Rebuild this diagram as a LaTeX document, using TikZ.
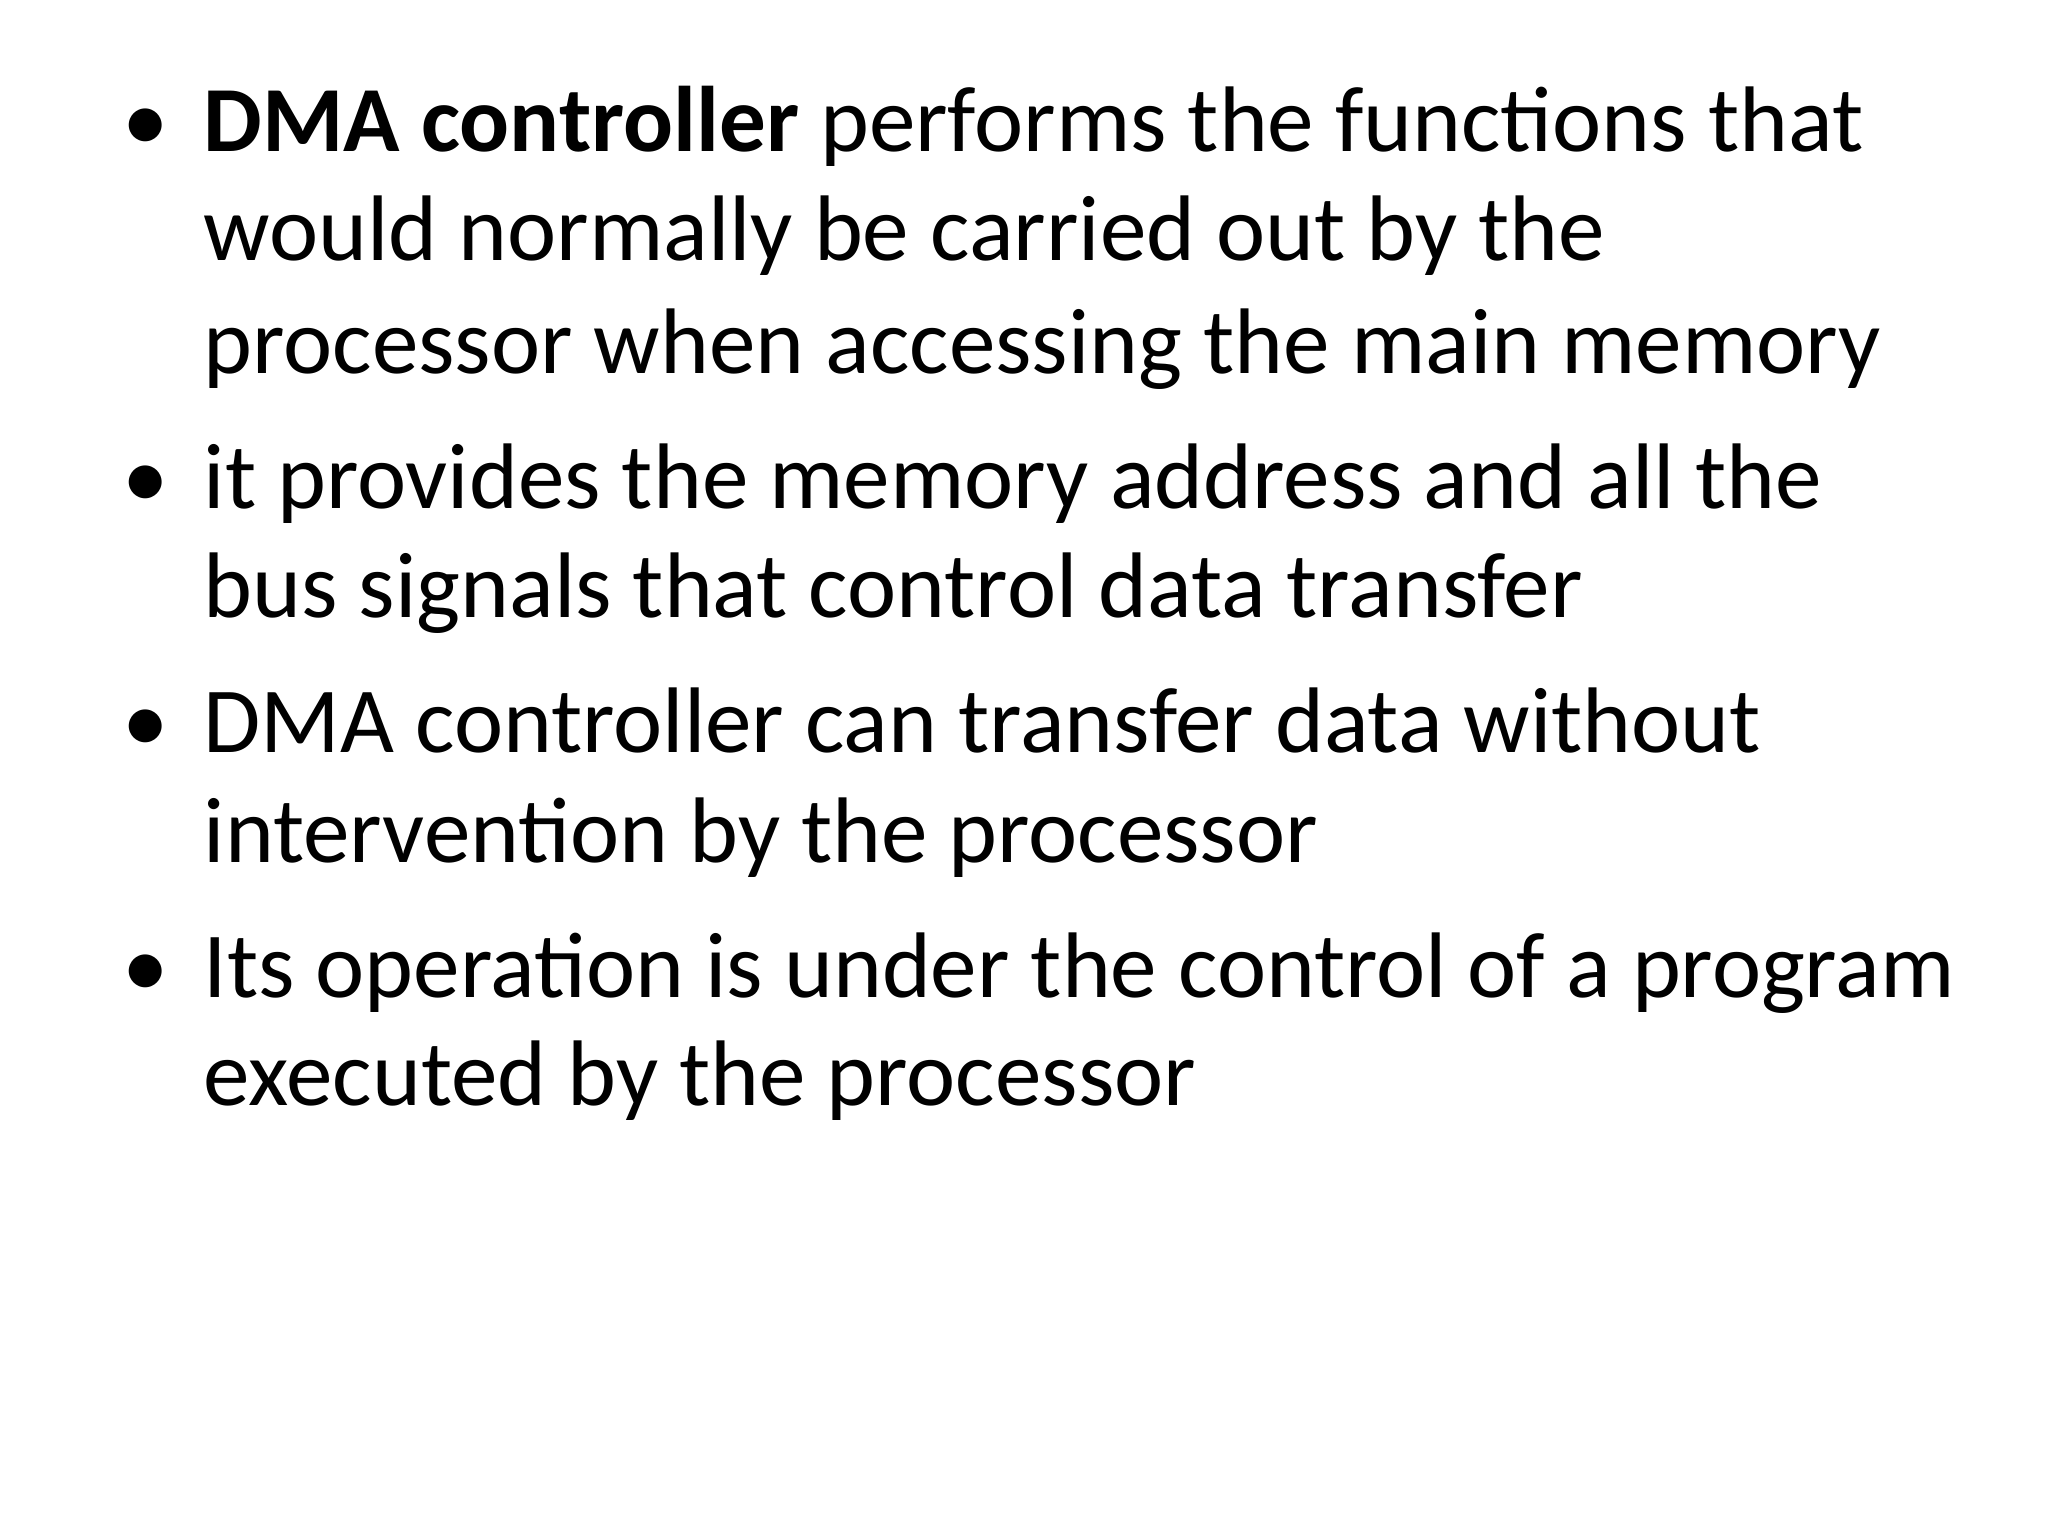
\documentclass[tikz,border=0pt]{standalone}
\usepackage{fontspec}
\setmainfont{Carlito}
\begin{document}
\begin{tikzpicture}[x=1cm,y=1cm,
  ln/.style={anchor=base west,inner sep=0pt,font=\fontsize{26.5}{30}\selectfont},
  bl/.style={anchor=base west,inner sep=0pt,font=\fontsize{26.5}{30}\selectfont}]
\useasboundingbox (0,0) rectangle (20.48,15.36);
\node[bl] (b1) at (1.22,15.36-1.52) {•};
\node[ln] (l1) at (2.03,15.36-1.52) {\textbf{DMA controller} performs the functions that};
\node[ln] (l2) at (2.03,15.36-2.61) {would normally be carried out by the};
\node[ln] (l3) at (2.03,15.36-3.74) {processor when accessing the main memory};
\node[bl] (b2) at (1.22,15.36-5.09) {•};
\node[ln] (l4) at (2.03,15.36-5.09) {it provides the memory address and all the};
\node[ln] (l5) at (2.03,15.36-6.18) {bus signals that control data transfer};
\node[bl] (b3) at (1.22,15.36-7.53) {•};
\node[ln] (l6) at (2.03,15.36-7.53) {DMA controller can transfer data without};
\node[ln] (l7) at (2.03,15.36-8.63) {intervention by the processor};
\node[bl] (b4) at (1.22,15.36-9.98) {•};
\node[ln] (l8) at (2.03,15.36-9.98) {Its operation is under the control of a program};
\node[ln] (l9) at (2.03,15.36-11.06) {executed by the processor};
\end{tikzpicture}
\end{document}
